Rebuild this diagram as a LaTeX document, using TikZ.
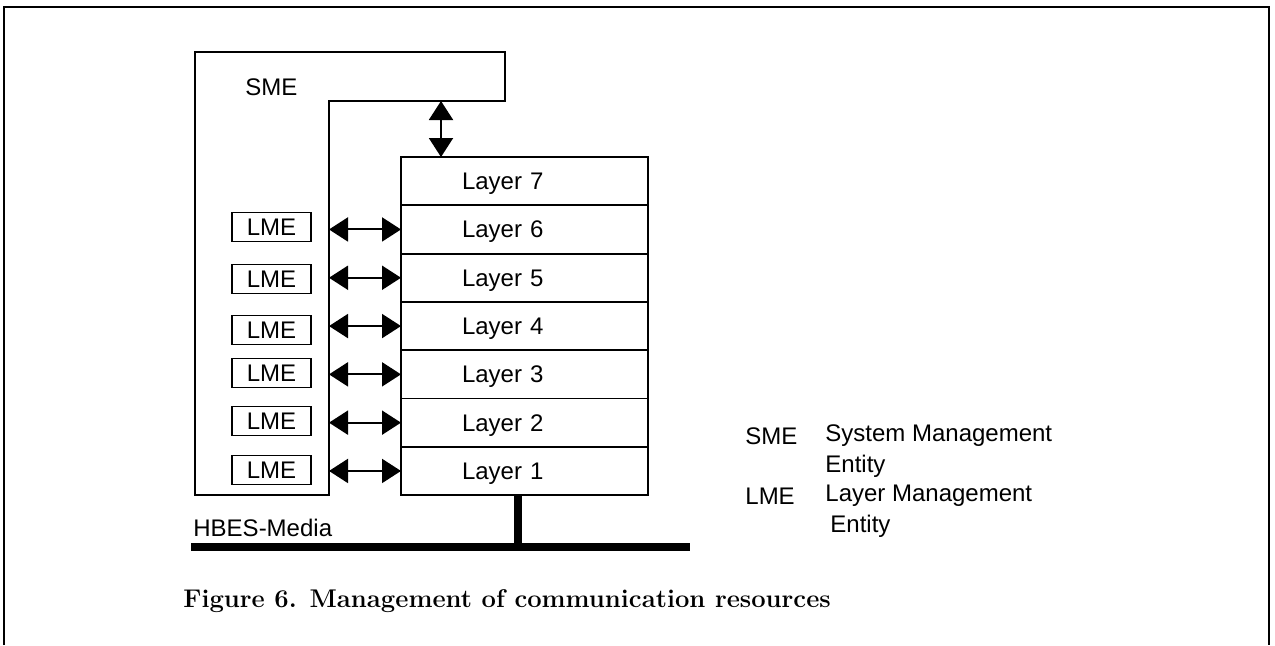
\documentclass[tikz,border=0pt]{standalone}
\usepackage{fontspec}
\newfontfamily\arialfont{Liberation Sans}
\usepackage{tikz}
\usetikzlibrary{arrows.meta,positioning}

\begin{document}
\begin{tikzpicture}[
  x=0.5pt, y=-0.5pt,
  node distance=0pt,
  every node/.style={font=\arialfont\fontsize{12}{14}\selectfont},
  layer/.style={draw, line width=0.9pt, outer sep=0pt, minimum width=123.5pt, minimum height=24.15pt, inner xsep=30.5pt, inner ysep=0pt, text width=62.5pt, text depth=0pt, align=left},
  lme/.style={draw, line width=0.8pt, minimum width=39.5pt, minimum height=14.5pt, inner sep=0pt},
  lbl/.style={anchor=west, inner sep=0pt},
  arr/.style={{Triangle[length=9.5pt,width=12pt]}-{Triangle[length=9.5pt,width=12pt]}, line width=1pt},
  bus/.style={line width=4pt}
]
\useasboundingbox (0,0) rectangle (1275,645);
\draw[line width=1pt] (4,645) -- (4,7) -- (1269,7) -- (1269,645);

\draw[line width=0.8pt] (195,495) -- (195,52) -- (505,52) -- (505,101) -- (329,101) -- (329,495) -- cycle;
\node[lbl] (sme) at (245,87) {SME};
\coordinate (smein) at (329,101);
\coordinate (smetab) at (441,101);

\node[layer, anchor=north west] (l7) at (401,157) {Layer 7};
\node[layer, below=of l7] (l6) {Layer 6};
\node[layer, below=of l6] (l5) {Layer 5};
\node[layer, below=of l5] (l4) {Layer 4};
\node[layer, below=of l4] (l3) {Layer 3};
\node[layer, below=of l3] (l2) {Layer 2};
\node[layer, below=of l2] (l1) {Layer 1};

\foreach \i/\y in {6/227,5/279,4/330,3/373,2/421,1/470}
  \node[lme] (lme\i) at (271.5,\y) {LME};

\draw[arr] (smetab) -- (smetab |- l7.north);
\foreach \i in {1,...,6}
  \draw[arr] (smein |- l\i.west) -- (l\i.west);

\coordinate (busw) at (191,547);
\coordinate (buse) at (690,547);
\coordinate (tap) at (518,547);
\draw[bus] (busw) -- (buse);
\draw[bus] (tap |- l1.south) -- (tap);
\node[lbl] (media) at (193,528) {HBES-Media};

\node[lbl] (key1) at (745,436) {SME};
\node[lbl] (def1) at (825,436) {System Management};
\node[lbl] (def1b) at (825,466) {Entity};
\node[lbl] (key2) at (745,496) {LME};
\node[lbl] (def2) at (825,496) {Layer Management};
\node[lbl] (def2b) at (830,526) {Entity};

\node[anchor=base west, inner sep=0pt, font=\fontsize{12.8}{15}\selectfont\bfseries] (caption) at (183,607) {Figure 6. Management of communication resources};
\end{tikzpicture}
\end{document}
